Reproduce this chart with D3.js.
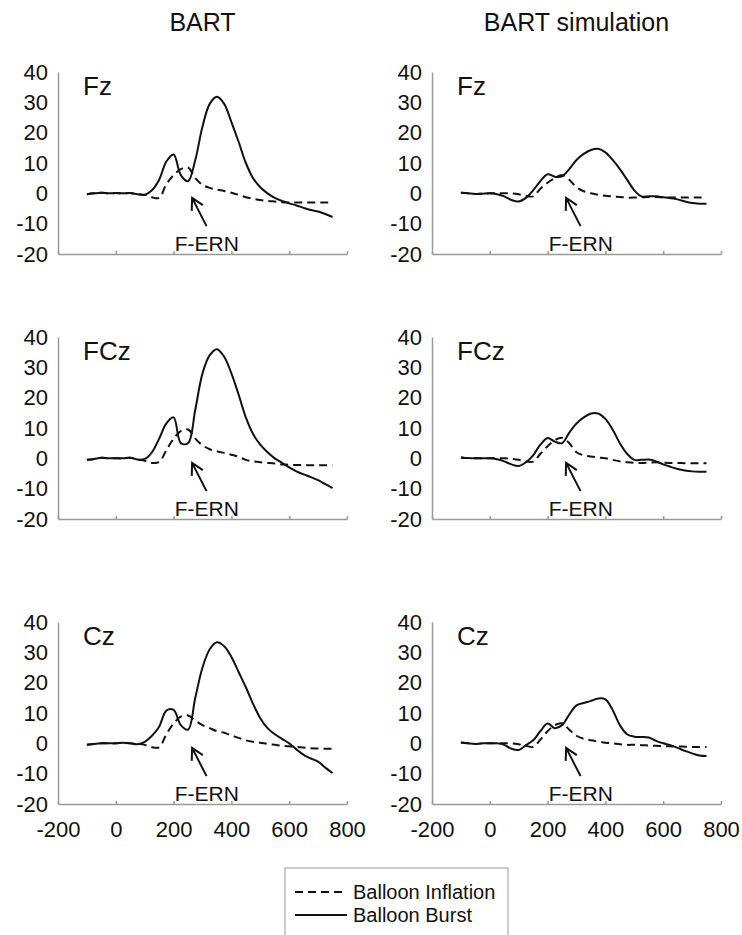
<!DOCTYPE html>
<meta charset="utf-8">
<head>
<style>
body { margin: 0; background: #fff; }
text { font-family: "Liberation Sans", Arial, sans-serif; fill: #111; }
.line { fill: none; stroke: #111; stroke-width: 2px; }
.dash { stroke-dasharray: 8,5; }
.axis path, .axis line { stroke: #999; stroke-width: 1.5px; }
</style>
</head>
<body>
<script src="https://d3js.org/d3.v7.min.js"></script>
<script>

// time points (ms), shared by every series
var times = [-100,-75,-50,-25,0,25,50,75,100,125,150,175,200,225,250,275,300,325,350,
             375,400,425,450,475,500,525,550,575,600,625,650,675,700,725,750];

var columnTitles = ["BART", "BART simulation"];
var rowLabels = ["Fz", "FCz", "Cz"];
var xTicks = [-200, 0, 200, 400, 600, 800];
var yTicks = [-20, -10, 0, 10, 20, 30, 40];
var legendLabels = ["Balloon Inflation", "Balloon Burst"];

// BART (recorded)
var fzInflation  = [-0.3,0,0.2,0,0.1,0,0.1,-0.3,-0.5,-1.3,-1.5,3,6,8,8.5,5,2.8,1.8,1.2,0.8,0.2,-0.5,-1.3,-1.8,-2.2,-2.5,-2.7,-2.9,-3,-3,-3,-3,-3,-3,-3];
var fzBurst      = [-0.3,0,0.2,0,0.1,0,0.1,-0.3,-0.5,1,4.5,10.5,12.8,6,4,11,22,29.5,31.8,29.5,23.5,17,10,5,2,0,-1.5,-2.5,-3.3,-4,-4.8,-5.5,-6,-6.8,-7.8];
var fczInflation = [-0.5,-0.2,0.2,0,0,0,0.2,-0.4,-0.8,-1.5,-1.2,2.7,6.5,9,9.5,6.5,4.3,3,2.3,1.8,1.2,0.5,-0.5,-1,-1.3,-1.5,-1.7,-2,-2.1,-2.2,-2.2,-2.3,-2.3,-2.3,-2.3];
var fczBurst     = [-0.5,-0.2,0.2,0,0,0,0.2,-0.4,-0.2,2,6.5,11.5,13.5,5,5,16,28,34,36,33.5,28,21,13.5,8,4.5,2,0,-1.5,-3,-4.3,-5.3,-6.2,-7.2,-8.5,-9.8];
var czInflation  = [-0.5,-0.2,0,0,0,0.2,0,-0.2,-0.5,-1.3,-1.3,3,6.5,8.8,9.2,7.5,6,5,4,3.5,2.6,1.8,1,0.5,0.2,-0.2,-0.5,-0.8,-1,-1.2,-1.4,-1.6,-1.7,-1.8,-1.8];
var czBurst      = [-0.5,-0.2,0,0,0,0.2,0,-0.3,0.5,2.5,5.5,10.8,11,6,4.5,15,25,31,33.3,32,28.5,23.5,18.5,13,8.3,5,3,1.5,0,-2,-3.8,-5,-6,-8,-9.8];

// BART simulation
var fzSimInflation  = [0.2,0,-0.2,-0.1,0,0,0,0,-0.3,-0.8,-1,1.5,3.5,5,6,4.5,2,0.7,0,-0.5,-0.8,-1,-1.2,-1.4,-1.4,-1.3,-1.2,-1.2,-1.3,-1.4,-1.4,-1.4,-1.4,-1.4,-1.4];
var fzSimBurst      = [0.2,0,-0.2,-0.1,0,-0.3,-1,-2.2,-2.7,-1.5,1,4,6.3,5.5,5.6,8,11,13,14.3,14.7,13.5,11,8,4.5,1,-1,-1,-1,-1.3,-1.6,-2,-2.7,-3.2,-3.4,-3.4];
var fczSimInflation = [0.3,0.1,0,0,0,0,0,-0.2,-0.5,-1,-1.1,1.5,4,6,6.8,5,2,1,0.6,0.3,0,-0.5,-1,-1.3,-1.5,-1.5,-1.4,-1.3,-1.4,-1.5,-1.5,-1.6,-1.6,-1.6,-1.6];
var fczSimBurst     = [0.3,0.1,0,0,0,-0.3,-1,-2,-2.5,-1.3,1,4.5,6.7,5.5,5,8.5,11.5,13.5,14.8,14.8,13,9.5,5,1.5,-0.5,-0.5,-0.4,-1,-2,-2.8,-3.5,-4,-4.3,-4.4,-4.4];
var czSimInflation  = [0.3,0,-0.2,0,0,0,0,0,-0.3,-0.8,-1.2,1.2,4,6,6.6,4.5,2.5,1.5,1,0.6,0.2,0,-0.3,-0.5,-0.5,-0.6,-0.7,-0.8,-0.9,-1,-1,-1.1,-1.2,-1.2,-1.2];
var czSimBurst      = [0.3,0,-0.2,0,0,0,-0.5,-1.8,-2.2,-0.6,1,4,6.5,5,6,9.5,12.5,13.3,14,14.8,14.5,11,6,3,2.2,2.1,1.9,0.8,0,-0.6,-1.5,-2.5,-3.3,-4,-4.2];

// F-ERN annotation (ms, µV): label position, arrow tail and tip
var fernLabel = [315, -19];
var fernArrow = [[314, -10.8], [264, -1.5]];

var panels = [
  {row: 0, col: 0, label: rowLabels[0], inflation: fzInflation,     burst: fzBurst},
  {row: 0, col: 1, label: rowLabels[0], inflation: fzSimInflation,  burst: fzSimBurst},
  {row: 1, col: 0, label: rowLabels[1], inflation: fczInflation,    burst: fczBurst},
  {row: 1, col: 1, label: rowLabels[1], inflation: fczSimInflation, burst: fczSimBurst},
  {row: 2, col: 0, label: rowLabels[2], inflation: czInflation,     burst: czBurst},
  {row: 2, col: 1, label: rowLabels[2], inflation: czSimInflation,  burst: czSimBurst}
];

// layout
var colLeft = [58, 432], plotW = 289;
var rowTop = [72, 337, 622], plotH = 182;

var svg = d3.select("body").append("svg")
    .attr("width", 742)
    .attr("height", 935);

// column titles
columnTitles.forEach(function(t, i) {
  svg.append("text")
    .attr("x", colLeft[i] + plotW / 2)
    .attr("y", 31)
    .attr("text-anchor", "middle")
    .style("font-size", "25px")
    .text(t);
});

// plain hyphen for negatives, like the original
var fmt = function(d) { return String(d); };

panels.forEach(function(p) {
  var g = svg.append("g")
    .attr("transform", "translate(" + colLeft[p.col] + "," + rowTop[p.row] + ")");

  var x = d3.scaleLinear().domain([-200, 800]).range([0, plotW]);
  var y = d3.scaleLinear().domain([-20, 40]).range([plotH, 0]);

  // y axis
  var ya = g.append("g").attr("class", "axis")
    .call(d3.axisLeft(y).tickValues(yTicks).tickFormat(fmt).tickSize(0).tickPadding(10));
  ya.selectAll("text").style("font-size", "22px").attr("fill", "#111");

  // x axis
  var xa = g.append("g").attr("class", "axis")
    .attr("transform", "translate(0," + plotH + ")")
    .call(d3.axisBottom(x).tickValues(xTicks).tickFormat(fmt).tickSizeInner(-3).tickSizeOuter(0).tickPadding(16));
  xa.selectAll("text")
    .style("font-size", "22px")
    .attr("fill", "#111")
    .attr("dy", "0.75em")
    .style("display", p.row === 2 ? null : "none");

  var line = d3.line()
    .x(function(d, i) { return x(times[i]); })
    .y(function(d) { return y(d); })
    .curve(d3.curveCatmullRom);

  g.append("path").attr("class", "line dash").attr("d", line(p.inflation));
  g.append("path").attr("class", "line").attr("d", line(p.burst));

  // electrode label
  g.append("text")
    .attr("x", 25)
    .attr("y", 23)
    .style("font-size", "26px")
    .text(p.label);

  // F-ERN label and arrow
  g.append("text")
    .attr("x", x(fernLabel[0]))
    .attr("y", y(fernLabel[1]))
    .attr("text-anchor", "middle")
    .style("font-size", "21px")
    .text("F-ERN");

  var tail = [x(fernArrow[0][0]), y(fernArrow[0][1])];
  var tip = [x(fernArrow[1][0]), y(fernArrow[1][1])];
  var ang = Math.atan2(tail[1] - tip[1], tail[0] - tip[0]);
  var headLen = 13, spread = 0.5;
  var a1 = [tip[0] + headLen * Math.cos(ang - spread), tip[1] + headLen * Math.sin(ang - spread)];
  var a2 = [tip[0] + headLen * Math.cos(ang + spread), tip[1] + headLen * Math.sin(ang + spread)];
  g.append("path")
    .attr("class", "line")
    .attr("d", "M" + tail + "L" + tip + "M" + a1 + "L" + tip + "L" + a2);
});

// legend
var lg = svg.append("g").attr("transform", "translate(285,868)");
lg.append("rect")
  .attr("width", 223).attr("height", 80)
  .attr("fill", "none").attr("stroke", "#bbb").attr("stroke-width", 1.5);
legendLabels.forEach(function(l, i) {
  lg.append("line")
    .attr("class", i === 0 ? "line dash" : "line")
    .attr("x1", 10).attr("x2", 62)
    .attr("y1", 24 + i * 23).attr("y2", 24 + i * 23);
  lg.append("text")
    .attr("x", 68)
    .attr("y", 31 + i * 23)
    .style("font-size", "20px")
    .text(l);
});

</script>
</body>
